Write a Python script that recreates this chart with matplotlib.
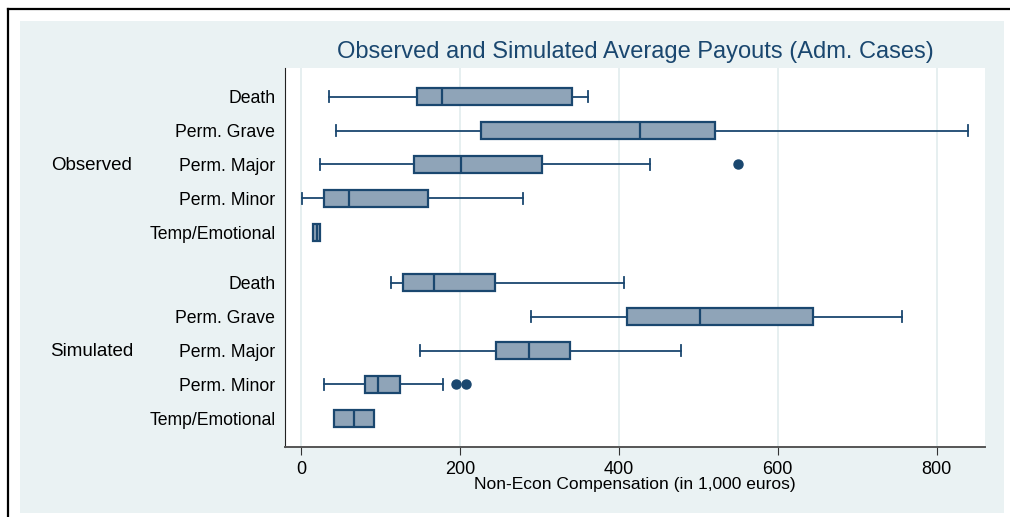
"""Observed vs simulated average payouts, horizontal box plots (Stata s2color look)."""

import matplotlib

matplotlib.use("Agg")
import matplotlib.pyplot as plt  # noqa: E402
from matplotlib.lines import Line2D  # noqa: E402
from matplotlib.patches import Rectangle  # noqa: E402

# --- data (in 1,000 euros) ---
groups = ["Observed", "Simulated"]
categories = ["Death", "Perm. Grave", "Perm. Major", "Perm. Minor", "Temp/Emotional"]

obs_whislo = [35, 44, 24, 2, 15]
obs_q1 = [146, 227, 142, 29, 15]
obs_med = [177, 427, 202, 60, 20]
obs_q3 = [341, 521, 303, 160, 24]
obs_whishi = [361, 840, 440, 280, 24]
obs_fliers = [[], [], [550], [], []]

sim_whislo = [113, 290, 150, 29, 42]
sim_q1 = [128, 410, 245, 81, 42]
sim_med = [168, 502, 287, 97, 67]
sim_q3 = [244, 645, 339, 125, 92]
sim_whishi = [407, 757, 479, 179, 92]
sim_fliers = [[], [], [], [195, 208], []]

x_ticks = [0, 200, 400, 600, 800]

NAVY = "#1a476f"
FILL = "#8fa4b8"
BG = "#eaf2f3"
FONT = ["Liberation Sans", "DejaVu Sans"]


def _stats(lo, q1, med, q3, hi, fl):
    return [
        {"whislo": a, "q1": b, "med": c, "q3": d, "whishi": e, "fliers": f}
        for a, b, c, d, e, f in zip(lo, q1, med, q3, hi, fl)
    ]


stats = _stats(obs_whislo, obs_q1, obs_med, obs_q3, obs_whishi, obs_fliers) + _stats(
    sim_whislo, sim_q1, sim_med, sim_q3, sim_whishi, sim_fliers
)
positions = [0, 1, 2, 3, 4, 5.5, 6.5, 7.5, 8.5, 9.5]

W, H = 1010, 517
fig = plt.figure(figsize=(W / 100, H / 100), dpi=100)
fig.patch.set_facecolor("white")

# light graph region + outer black frame
fig.patches.append(
    Rectangle((20 / W, 1 - 513 / H), 984 / W, 492 / H, transform=fig.transFigure,
              facecolor=BG, edgecolor="none", zorder=-10)
)
fig.lines.append(Line2D([8 / W, 1], [1 - 9 / H, 1 - 9 / H], transform=fig.transFigure,
                        color="black", lw=1.6, zorder=-5))
fig.lines.append(Line2D([8 / W, 8 / W], [0, 1 - 9 / H], transform=fig.transFigure,
                        color="black", lw=1.6, zorder=-5))

ax = fig.add_axes([285 / W, 1 - 447 / H, 700 / W, 379 / H])
ax.set_zorder(5)
ax.set_facecolor("white")

ax.bxp(
    stats,
    positions=positions,
    orientation="horizontal",
    widths=0.5,
    patch_artist=True,
    showfliers=True,
    boxprops={"facecolor": FILL, "edgecolor": NAVY, "linewidth": 1.6},
    medianprops={"color": NAVY, "linewidth": 1.6},
    whiskerprops={"color": NAVY, "linewidth": 1.3},
    capprops={"color": NAVY, "linewidth": 1.3},
    flierprops={"marker": "o", "markerfacecolor": NAVY, "markeredgecolor": NAVY,
                "markersize": 6.5},
    capwidths=0.32,
)

ax.set_xlim(-20, 861)
ax.set_ylim(10.35, -0.85)
ax.set_xticks(x_ticks)
ax.set_xticklabels([str(t) for t in x_ticks], family=FONT, fontsize=13)
ax.tick_params(axis="x", length=6, color="#333333", pad=4)
ax.set_yticks(positions)
ax.set_yticklabels(categories * 2, family=FONT, fontsize=12.7)
ax.tick_params(axis="y", length=0, pad=7)
ax.grid(axis="x", color="#e4eeef", lw=1.3)
ax.set_axisbelow(True)

for side in ("top", "right"):
    ax.spines[side].set_visible(False)
ax.spines["left"].set_color("#222222")
ax.spines["bottom"].set_color("#555555")
ax.spines["bottom"].set_linewidth(1.4)

# group labels
for g, ypx in zip(groups, [165, 352]):
    fig.text(92 / W, 1 - ypx / H, g, ha="center", va="center", family=FONT, fontsize=13.5)

fig.text(635 / W, 1 - 52 / H, "Observed and Simulated Average Payouts (Adm. Cases)",
         ha="center", va="center", color=NAVY, family=FONT, fontsize=17)
fig.text(635 / W, 1 - 485 / H, "Non-Econ Compensation (in 1,000 euros)",
         ha="center", va="center", family=FONT, fontsize=12.5)

fig.savefig("out.png", dpi=100)
